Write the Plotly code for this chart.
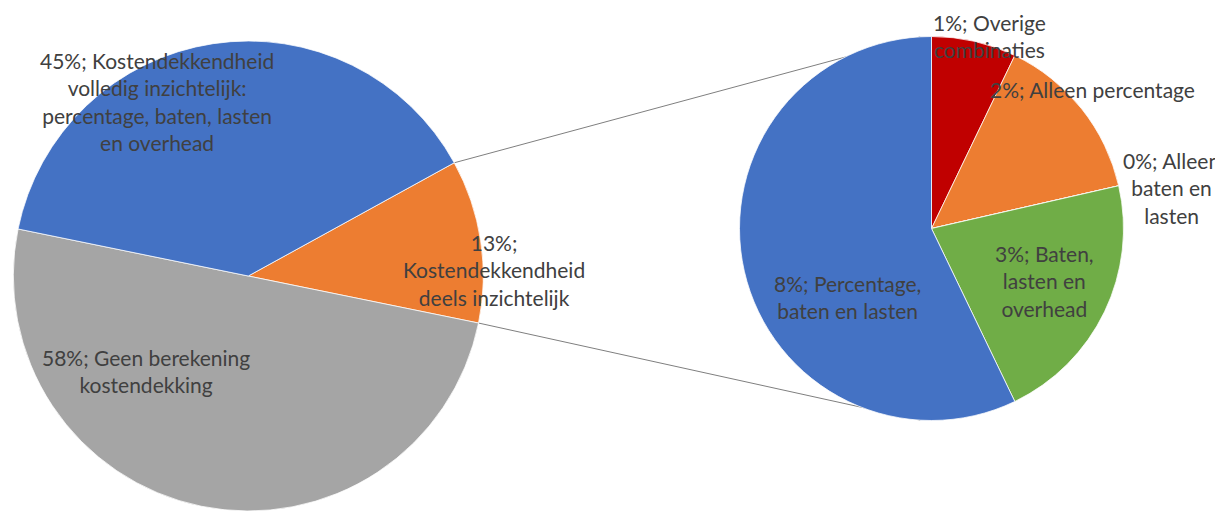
import math
import plotly.graph_objects as go

# main pie (left)
main_labels = ["Kostendekkendheid deels inzichtelijk",
               "Geen berekening kostendekking",
               "Kostendekkendheid volledig inzichtelijk: percentage, baten, lasten en overhead"]
main_values = [13, 58, 45]
main_text = ["13%;<br>Kostendekkendheid<br>deels inzichtelijk",
             "58%; Geen berekening<br>kostendekking",
             "45%; Kostendekkendheid<br>volledig inzichtelijk:<br>percentage, baten, lasten<br>en overhead"]
main_colors = ["#ED7D31", "#A5A5A5", "#4472C4"]

# secondary pie (right), breakdown of the orange slice
sub_labels = ["Overige combinaties", "Alleen percentage", "Alleen baten en lasten",
              "Baten, lasten en overhead", "Percentage, baten en lasten"]
sub_values = [1, 2, 0, 3, 8]
sub_text = ["1%; Overige<br>combinaties",
            "2%; Alleen percentage",
            "0%; Alleen<br>baten en<br>lasten",
            "3%; Baten,<br>lasten en<br>overhead",
            "8%; Percentage,<br>baten en lasten"]
sub_colors = ["#C00000", "#ED7D31", "#FFFFFF", "#70AD47", "#4472C4"]

# page body has an 8px margin, so the figure starts at (8, 8) in the window
OFF = 8
W, H = 1223 - OFF, 511 - OFF
FONT = dict(family="Lato, Calibri, sans-serif", size=21, color="#404040")

# pie geometry in window pixels
c1, r1 = (248.3, 276.0), 235.0
c2, r2 = (931.5, 228.5), 192.0
rot1 = 61.2


def to_paper(px, py):
    return (px - OFF) / W, 1 - (py - OFF) / H


def domain(c, r):
    x0, y0 = to_paper(c[0] - r, c[1] + r)
    x1, y1 = to_paper(c[0] + r, c[1] - r)
    return dict(x=[x0, x1], y=[max(0, y0), min(1, y1)])


fig = go.Figure()
fig.add_trace(go.Pie(
    labels=main_labels, values=main_values, sort=False, direction="clockwise",
    rotation=rot1, domain=domain(c1, r1), textinfo="none",
    marker=dict(colors=main_colors, line=dict(color="white", width=0.75)),
))
fig.add_trace(go.Pie(
    labels=sub_labels, values=sub_values, sort=False, direction="clockwise",
    rotation=0, domain=domain(c2, r2), textinfo="none",
    marker=dict(colors=sub_colors, line=dict(color="white", width=0.75)),
))

# connector lines from the edges of the orange slice to the second pie
a_start = math.radians(rot1)
a_end = math.radians(rot1 + 360 * main_values[0] / sum(main_values))
p_top = (c1[0] + r1 * math.sin(a_start), c1[1] - r1 * math.cos(a_start))
p_bot = (c1[0] + r1 * math.sin(a_end), c1[1] - r1 * math.cos(a_end))
off = math.radians(3.4)
q_top = (c2[0] - r2 * math.sin(off), c2[1] - r2 * math.cos(off))
q_bot = (c2[0] - r2 * math.sin(off), c2[1] + r2 * math.cos(off))
for p, q in [(p_top, q_top), (p_bot, q_bot)]:
    x0, y0 = to_paper(*p)
    x1, y1 = to_paper(*q)
    fig.add_shape(type="line", xref="paper", yref="paper", x0=x0, y0=y0, x1=x1, y1=y1,
                  line=dict(color="#7F7F7F", width=1), layer="below")

# label positions (window pixels)
main_pos = [(494, 270), (146, 371), (157, 101)]
sub_pos = [(989, 36), (1092, 90), (1171, 188), (1044, 281), (847, 297)]
for txt, pos in zip(main_text + sub_text, main_pos + sub_pos):
    x, y = to_paper(*pos)
    fig.add_annotation(text=txt, x=x, y=y, xref="paper", yref="paper",
                       showarrow=False, font=FONT, align="center",
                       xanchor="center", yanchor="middle")

fig.update_layout(
    width=W, height=H, margin=dict(l=0, r=0, t=0, b=0),
    showlegend=False, paper_bgcolor="white", plot_bgcolor="white",
)
fig.write_html("out.html")
